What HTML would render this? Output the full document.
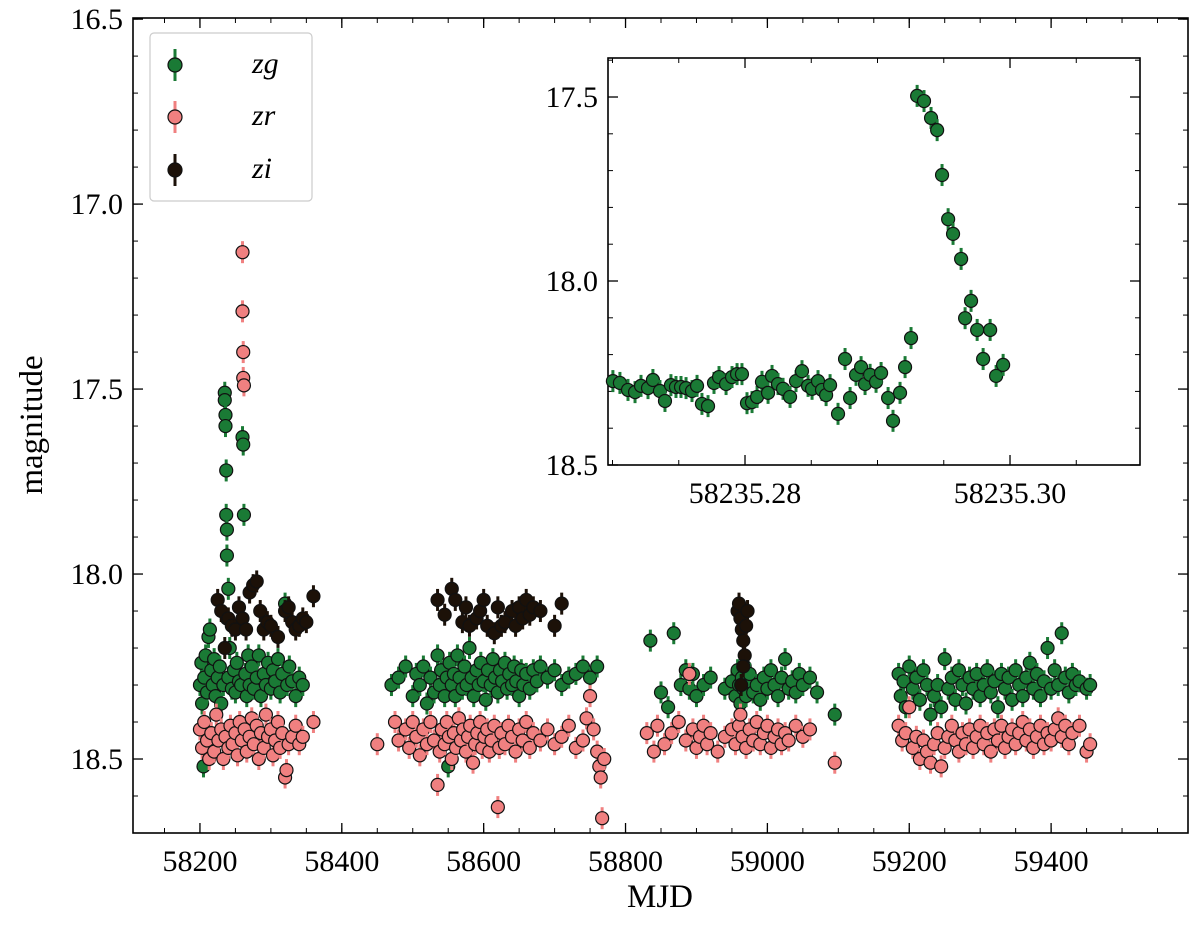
<!DOCTYPE html>
<html><head><meta charset="utf-8"><style>
html,body{margin:0;padding:0;background:#fff}
svg{display:block;font-family:"Liberation Serif","DejaVu Serif",serif}
</style></head><body>
<svg id="chart" width="1200" height="925" viewBox="0 0 1200 925" xmlns="http://www.w3.org/2000/svg">
<g id="main"></g>
<g id="inset"></g>
<g id="legend"></g>
</svg>
<script>
// ---- main plot data ----
const zgMjd=[58200,58202,58203,58205,58206,58208,58210,58212,58214,58216,58218,58220,58222,58225,58228,58230,58233,58235,58235,58236,58236,58237,58237,58238,58238,58238,58240,58240,58242,58245,58248,58250,58252,58255,58258,58260,58261,58262,58264,58266,58268,58270,58273,58276,58280,58283,58286,58290,58293,58296,58300,58303,58306,58310,58313,58316,58320,58323,58326,58330,58335,58340,58345,
58470,58480,58490,58500,58505,58510,58515,58520,58525,58530,58535,58538,58540,58545,58548,58550,58552,58555,58558,58560,58563,58566,58570,58573,58576,58580,58583,58586,58590,58593,58596,58600,58603,58606,58610,58613,58616,58620,58623,58626,58630,58633,58636,58640,58643,58646,58650,58653,58656,58660,58665,58670,58675,58680,58690,58700,58710,58720,58730,58740,58750,58760,
58835,58850,58860,58868,58878,58885,58890,58895,58900,58910,58920,58940,58950,58955,58958,58960,58962,58964,58966,58968,58970,58972,58975,58980,58985,58990,58995,59000,59005,59010,59015,59020,59025,59030,59035,59040,59045,59050,59060,59070,59095,
59185,59188,59192,59195,59200,59205,59210,59215,59220,59225,59230,59235,59240,59245,59250,59255,59260,59265,59270,59275,59280,59285,59290,59295,59300,59305,59310,59315,59320,59325,59330,59335,59340,59345,59350,59355,59360,59365,59370,59375,59380,59385,59390,59395,59400,59405,59410,59415,59420,59425,59430,59435,59440,59450,59455];
const zgMag=[18.30,18.24,18.35,18.52,18.28,18.22,18.32,18.17,18.15,18.26,18.30,18.23,18.33,18.28,18.25,18.35,18.30,17.51,17.53,17.57,17.60,17.72,17.84,17.88,17.95,18.12,18.04,18.28,18.20,18.31,18.26,18.32,18.24,18.29,18.30,17.63,17.65,17.84,18.27,18.33,18.22,18.30,18.25,18.31,18.28,18.22,18.33,18.27,18.30,18.24,18.31,18.26,18.29,18.23,18.32,18.27,18.08,18.30,18.25,18.29,18.33,18.28,18.30,
18.30,18.28,18.25,18.33,18.27,18.30,18.25,18.35,18.28,18.32,18.22,18.30,18.26,18.33,18.28,18.52,18.24,18.30,18.27,18.33,18.22,18.28,18.31,18.25,18.30,18.20,18.28,18.33,18.26,18.30,18.24,18.29,18.34,18.26,18.30,18.23,18.28,18.32,18.26,18.29,18.24,18.31,18.27,18.30,18.25,18.29,18.33,18.26,18.30,18.27,18.31,18.26,18.29,18.25,18.28,18.26,18.30,18.28,18.27,18.25,18.28,18.25,
18.18,18.32,18.36,18.16,18.30,18.26,18.31,18.27,18.33,18.30,18.28,18.31,18.29,18.33,18.26,18.30,18.35,18.28,18.31,18.25,18.33,18.29,18.27,18.32,18.30,18.34,18.28,18.31,18.26,18.30,18.33,18.28,18.23,18.31,18.29,18.32,18.27,18.30,18.28,18.32,18.38,
18.27,18.33,18.29,18.36,18.25,18.31,18.28,18.34,18.26,18.30,18.38,18.33,18.30,18.36,18.23,18.31,18.28,18.34,18.26,18.30,18.35,18.28,18.31,18.27,18.33,18.30,18.26,18.32,18.29,18.36,18.27,18.31,18.28,18.34,18.26,18.30,18.33,18.28,18.24,18.31,18.27,18.33,18.29,18.20,18.31,18.26,18.30,18.16,18.28,18.32,18.27,18.30,18.29,18.31,18.30];
const zrMjd=[58200,58203,58206,58210,58213,58216,58220,58223,58226,58230,58233,58236,58240,58243,58246,58250,58253,58256,58260,58260,58261,58261,58262,58259,58263,58266,58270,58273,58276,58280,58283,58286,58290,58293,58296,58300,58303,58306,58310,58313,58316,58320,58322,58325,58330,58335,58340,58345,58360,
58450,58475,58480,58490,58495,58500,58505,58510,58515,58520,58525,58530,58535,58538,58541,58545,58548,58551,58555,58558,58561,58565,58568,58571,58575,58578,58581,58585,58588,58591,58595,58598,58601,58605,58608,58611,58615,58620,58622,58625,58630,58635,58640,58645,58650,58655,58660,58665,58670,58680,58690,58700,58710,58720,58730,58740,58745,58750,58755,58760,58763,58765,58767,58770,
58830,58840,58845,58855,58865,58875,58885,58890,58895,58900,58905,58910,58915,58920,58930,58940,58950,58955,58960,58962,58965,58970,58975,58980,58985,58990,58995,59000,59005,59010,59015,59020,59025,59030,59040,59050,59060,59095,
59185,59190,59195,59200,59205,59210,59215,59220,59225,59230,59235,59240,59245,59250,59255,59260,59265,59270,59275,59280,59285,59290,59295,59300,59305,59310,59315,59320,59325,59330,59335,59340,59345,59350,59355,59360,59365,59370,59375,59380,59385,59390,59395,59400,59405,59410,59415,59420,59425,59430,59440,59450,59455];
const zrMag=[18.42,18.47,18.40,18.45,18.50,18.43,18.48,18.38,18.45,18.42,18.50,18.44,18.47,18.41,18.46,18.43,18.49,18.40,17.13,17.29,17.40,17.47,17.49,18.45,18.42,18.48,18.44,18.39,18.46,18.41,18.50,18.43,18.47,18.38,18.44,18.42,18.49,18.45,18.40,18.47,18.43,18.55,18.53,18.46,18.44,18.41,18.46,18.44,18.40,
18.46,18.40,18.45,18.42,18.47,18.40,18.44,18.49,18.42,18.46,18.40,18.45,18.57,18.48,18.42,18.46,18.40,18.44,18.50,18.43,18.47,18.39,18.45,18.42,18.48,18.44,18.41,18.51,18.46,18.43,18.40,18.47,18.44,18.42,18.48,18.45,18.41,18.63,18.47,18.43,18.46,18.41,18.44,18.48,18.42,18.45,18.40,18.47,18.43,18.45,18.42,18.46,18.44,18.41,18.47,18.45,18.39,18.33,18.42,18.48,18.52,18.55,18.66,18.50,
18.43,18.48,18.41,18.46,18.43,18.40,18.45,18.27,18.42,18.47,18.44,18.41,18.46,18.43,18.48,18.44,18.42,18.46,18.41,18.38,18.44,18.47,18.42,18.45,18.40,18.46,18.43,18.41,18.47,18.44,18.42,18.46,18.43,18.45,18.41,18.44,18.42,18.51,
18.41,18.45,18.43,18.36,18.47,18.44,18.50,18.45,18.48,18.51,18.46,18.43,18.52,18.47,18.44,18.41,18.45,18.48,18.43,18.46,18.42,18.47,18.44,18.41,18.46,18.43,18.48,18.42,18.45,18.41,18.47,18.44,18.42,18.46,18.43,18.40,18.45,18.42,18.47,18.44,18.41,18.46,18.43,18.45,18.42,18.39,18.44,18.41,18.46,18.43,18.41,18.48,18.46];
const ziMjd=[58225,58230,58235,58240,58245,58250,58255,58260,58265,58270,58275,58280,58285,58290,58295,58300,58310,58320,58325,58330,58335,58340,58345,58350,58360,
58535,58545,58555,58560,58570,58575,58580,58590,58595,58600,58605,58615,58620,58625,58630,58640,58645,58650,58655,58660,58665,58670,58680,58700,58710,
58958,58960,58962,58964,58966,58968,58970,58972,58966,58963];
const ziMag=[18.07,18.10,18.20,18.12,18.14,18.15,18.09,18.12,18.15,18.05,18.03,18.02,18.10,18.15,18.13,18.14,18.17,18.10,18.09,18.13,18.15,18.14,18.12,18.13,18.06,
18.07,18.11,18.04,18.07,18.13,18.09,18.14,18.12,18.10,18.07,18.14,18.16,18.09,18.14,18.13,18.10,18.14,18.09,18.12,18.07,18.11,18.09,18.10,18.14,18.08,
18.10,18.08,18.12,18.15,18.18,18.22,18.14,18.10,18.25,18.30];
const xTicks=[58200,58400,58600,58800,59000,59200,59400];
const yTicks=[16.5,17.0,17.5,18.0,18.5];
const yTickLabels=["16.5","17.0","17.5","18.0","18.5"];
// ---- inset data ----
const insetMjd=[58235.27003,58235.27056,58235.27117,58235.27170,58235.27215,58235.27268,58235.27305,58235.27358,58235.27396,58235.27441,58235.27479,58235.27517,58235.27555,58235.27600,58235.27638,58235.27675,58235.27721,58235.27766,58235.27804,58235.27857,58235.27902,58235.27940,58235.27977,58235.28015,58235.28053,58235.28091,58235.28128,58235.28174,58235.28204,58235.28249,58235.28287,58235.28340,58235.28385,58235.28430,58235.28476,58235.28506,58235.28551,58235.28581,58235.28612,58235.28642,58235.28702,58235.28755,58235.28793,58235.28838,58235.28876,58235.28906,58235.28944,58235.28989,58235.29027,58235.29080,58235.29117,58235.29170,58235.29208,58235.29253,58235.29299,58235.29351,58235.29404,58235.29450,58235.29487,58235.29533,58235.29570,58235.29631,58235.29661,58235.29706,58235.29752,58235.29797,58235.29850,58235.29895,58235.29948];
const insetMag=[18.272,18.277,18.296,18.302,18.285,18.291,18.269,18.299,18.326,18.283,18.288,18.288,18.291,18.299,18.285,18.334,18.340,18.277,18.261,18.280,18.261,18.253,18.253,18.332,18.329,18.315,18.274,18.304,18.258,18.280,18.293,18.315,18.272,18.245,18.285,18.293,18.272,18.296,18.310,18.283,18.361,18.212,18.318,18.255,18.234,18.280,18.255,18.274,18.250,18.318,18.380,18.304,18.234,18.155,17.497,17.511,17.557,17.590,17.712,17.832,17.872,17.940,18.101,18.054,18.133,18.212,18.133,18.258,18.228];
const insetXTicks=[58235.28,58235.30];
const insetXTickLabels=["58235.28","58235.30"];
const insetYTicks=[17.5,18.0,18.5];
const insetYTickLabels=["17.5","18.0","18.5"];

const NS="http://www.w3.org/2000/svg";
function mk(parent,tag,attrs){const e=document.createElementNS(NS,tag);for(const k in attrs)e.setAttribute(k,attrs[k]);parent.appendChild(e);return e;}
const COL={zg:{fill:"#1a7a35",bar:"#1a7a35"},zr:{fill:"#f08080",bar:"#f08080"},zi:{fill:"#1c1108",bar:"#1c1108"}};

const M={x0:133,x1:1188,y0:18,y1:833,xmin:58105.6,xmax:59593,ymin:16.497,ymax:18.70};
const mx=v=>M.x0+(v-M.xmin)/(M.xmax-M.xmin)*(M.x1-M.x0);
const my=v=>M.y0+(v-M.ymin)/(M.ymax-M.ymin)*(M.y1-M.y0);
const I={x0:608,x1:1140,y0:58,y1:465,xmin:58235.26966,xmax:58235.30981,ymin:17.394,ymax:18.5};
const ix=v=>I.x0+(v-I.xmin)/(I.xmax-I.xmin)*(I.x1-I.x0);
const iy=v=>I.y0+(v-I.ymin)/(I.ymax-I.ymin)*(I.y1-I.y0);

const main=document.getElementById('main');
function drawSeries(g,xs,ys,fx,fy,c,name,err){
  const sg=mk(g,'g',{});
  
  
  for(let i=0;i<xs.length;i++){
    const X=fx(xs[i]),Y=fy(ys[i]);
    const l=mk(sg,'line',{x1:X,x2:X,y1:Y-err,y2:Y+err,stroke:c.bar,'stroke-width':3});
    
    
    const p=mk(sg,'circle',{cx:X,cy:Y,r:6.5,fill:c.fill,stroke:'#111','stroke-width':1.2});
    
    
  }
}
function drawFrame(g,A,fx,fy,xt,xl,yt,yl,xminor,yminor,name){
  const r=mk(g,'rect',{x:A.x0,y:A.y0,width:A.x1-A.x0,height:A.y1-A.y0,fill:'none',stroke:'#000','stroke-width':1.6});
  
  
  xt.forEach((v,i)=>{const X=fx(v);
    mk(g,'line',{x1:X,x2:X,y1:A.y1,y2:A.y1-10,stroke:'#000','stroke-width':1.3});
    mk(g,'line',{x1:X,x2:X,y1:A.y0,y2:A.y0+10,stroke:'#000','stroke-width':1.3});
    const t=mk(g,'text',{x:X,y:A.y1+38,'text-anchor':'middle','font-size':30});
    t.textContent=xl[i];
    
    });
  xminor.forEach(v=>{const X=fx(v);if(X<A.x0||X>A.x1)return;
    mk(g,'line',{x1:X,x2:X,y1:A.y1,y2:A.y1-5,stroke:'#000','stroke-width':1});
    mk(g,'line',{x1:X,x2:X,y1:A.y0,y2:A.y0+5,stroke:'#000','stroke-width':1});});
  yt.forEach((v,i)=>{const Y=fy(v);
    mk(g,'line',{x1:A.x0,x2:A.x0+10,y1:Y,y2:Y,stroke:'#000','stroke-width':1.3});
    mk(g,'line',{x1:A.x1,x2:A.x1-10,y1:Y,y2:Y,stroke:'#000','stroke-width':1.3});
    const t=mk(g,'text',{x:A.x0-10,y:Y+10,'text-anchor':'end','font-size':30});
    t.textContent=yl[i];
    
    });
  yminor.forEach(v=>{const Y=fy(v);if(Y<A.y0||Y>A.y1)return;
    mk(g,'line',{x1:A.x0,x2:A.x0+5,y1:Y,y2:Y,stroke:'#000','stroke-width':1});
    mk(g,'line',{x1:A.x1,x2:A.x1-5,y1:Y,y2:Y,stroke:'#000','stroke-width':1});});
}
const mxMinor=[];for(let v=58100;v<=59600;v+=50)mxMinor.push(v);
const myMinor=[];for(let k=165;k<=187;k++)myMinor.push(k/10);
drawFrame(main,M,mx,my,xTicks,xTicks.map(String),yTicks,yTickLabels,mxMinor,myMinor,'main');
drawSeries(main,zgMjd,zgMag,mx,my,COL.zg,'zg',11);
drawSeries(main,zrMjd,zrMag,mx,my,COL.zr,'zr',11);
drawSeries(main,ziMjd,ziMag,mx,my,COL.zi,'zi',11);
let t=mk(main,'text',{x:660,y:907,'text-anchor':'middle','font-size':33});t.textContent='MJD';

t=mk(main,'text',{x:0,y:0,'text-anchor':'middle','font-size':33,transform:'translate(42,425) rotate(-90)'});t.textContent='magnitude';


const inset=document.getElementById('inset');
const bg=mk(inset,'rect',{x:I.x0,y:I.y0,width:I.x1-I.x0,height:I.y1-I.y0,fill:'#fff'});

const ixMinor=[];for(let k=0;k<=9;k++)ixMinor.push(58235.265+k*0.005);
const iyMinor=[];for(let k=173;k<=185;k++)iyMinor.push(k/10);
drawFrame(inset,I,ix,iy,insetXTicks,insetXTickLabels,insetYTicks,insetYTickLabels,ixMinor,iyMinor,'inset');
drawSeries(inset,insetMjd,insetMag,ix,iy,COL.zg,'inset-zg',11);

const lg=document.getElementById('legend');
const lb=mk(lg,'rect',{x:150,y:33,width:162,height:168,rx:4,fill:'#fff',stroke:'#ccc','stroke-width':1.2});

[['zg',65],['zr',117],['zi',170]].forEach(([n,y])=>{
  const c=COL[n];
  const e=mk(lg,'g',{});
  
  
  mk(e,'line',{x1:175,x2:175,y1:y-16,y2:y+16,stroke:c.bar,'stroke-width':3});
  mk(e,'circle',{cx:175,cy:y,r:7,fill:c.fill,stroke:'#111','stroke-width':1.2});
  const tx=mk(e,'text',{x:252,y:y+8,'font-size':30,'font-style':'italic'});tx.textContent=n;
});
</script>
</body></html>
